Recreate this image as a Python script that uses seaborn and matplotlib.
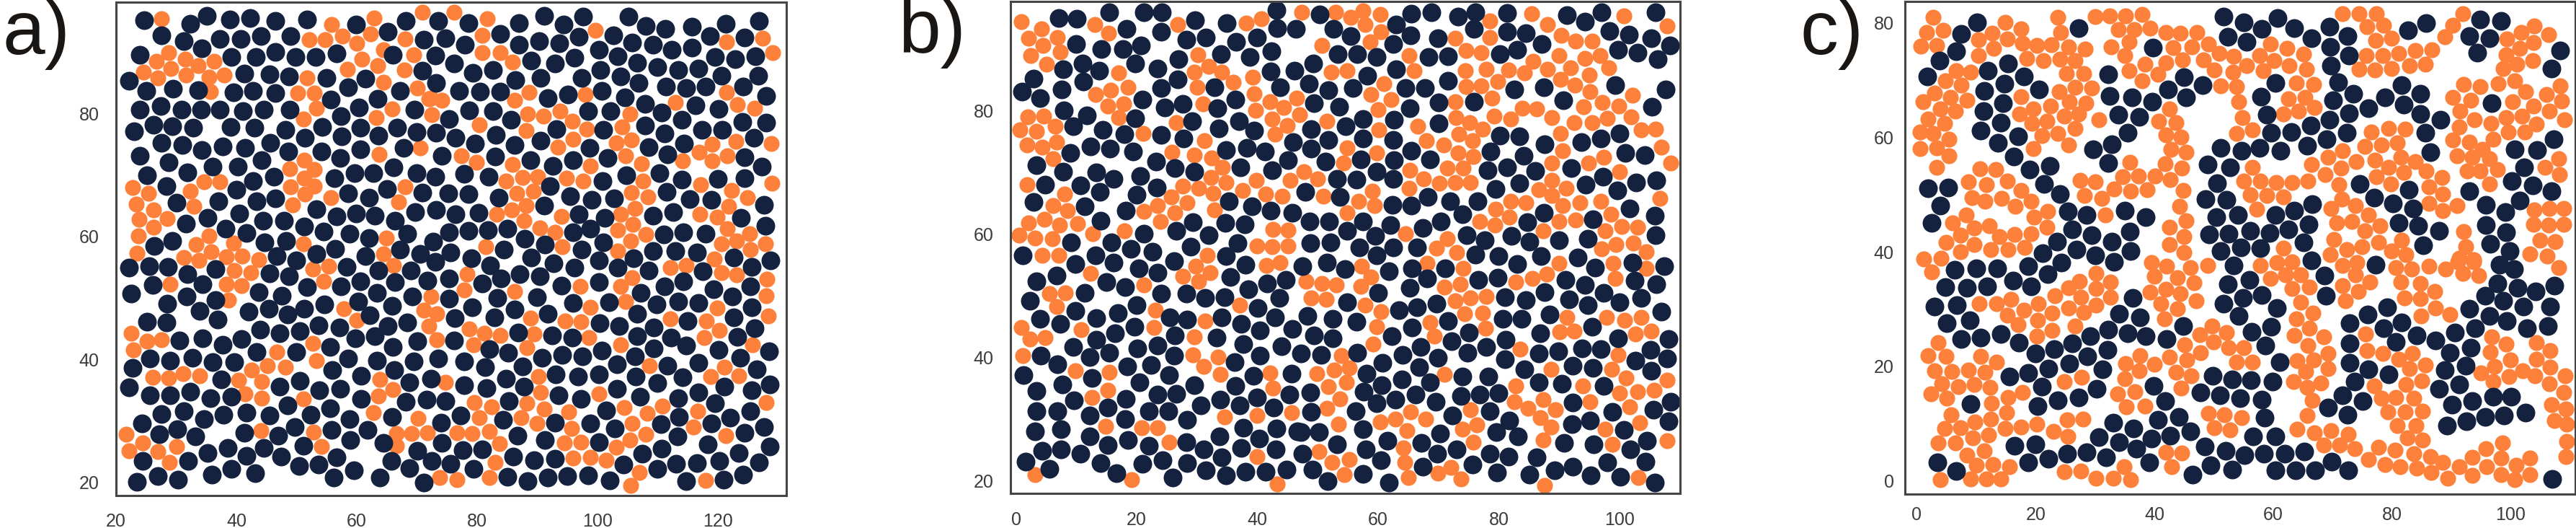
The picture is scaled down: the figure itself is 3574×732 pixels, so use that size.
import matplotlib
matplotlib.use("Agg")
import matplotlib.pyplot as plt
import pandas as pd
import seaborn as sns

# --- values, in axis units ---
a_dark = [(24.7,95.3),(32.3,94.7),(35.1,96),(38.9,95.4),(42.3,95.6),(46.5,95.2),(51.7,95.4),(59.9,94.6),(68.1,95.2),(27.6,92.8),(31.2,91.8),(34.3,90.7),(37.3,92.2),(40.7,92.2),(44.1,92.7),(49,92.7),(65.2,93.4),(71.1,92.1),(23.9,89.6),(39.2,89.3),(43.2,89.3),(46.5,90.1),(49.8,89.3),(53.2,89.3),(56.6,89.8),(66,89.6),(41.3,86.6),(45.5,86.4),(48.8,86.1),(55,85.8),(61.5,85.7),(70.9,87),(22.1,85.4),(25,83.8),(29.5,84.1),(33.6,83.9),(39.5,83.5),(42.8,83.8),(46.5,83.4),(58.6,84.3),(55.7,82.3),(63.5,82.4),(67.2,83.7),(23.9,80.7),(27.4,81.3),(30.9,80.7),(34.1,80.7),(37.3,80.7),(41.1,80.5),(44.5,80.7),(48.9,80.7),(57.4,79.6),(60.4,81),(69.6,80.7),(23,77.2),(26.2,78.2),(29.4,78),(32.8,77.7),(39.1,77.9),(43,77.7),(48.2,77.4),(54.3,77.9),(60.6,77.7),(66.7,77.7),(70,77.1),(51.4,76.1),(57.5,76.3),(63.6,76.4),(27.6,75.3),(31,74.9),(34.2,74.1),(37.7,74.7),(41.5,74.4),(45.6,75.3),(48.6,73.9),(54.1,73.9),(60.6,74.2),(67.8,74.5),(24,73.2),(28.8,72.1),(57.3,72.8),(44.2,72.4),(25.1,70),(31.8,70.5),(36,71.4),(40.3,71.4),(42.8,69.1),(46.2,69.8),(56.3,69.5),(59.6,70.3),(62.8,70.3),(66.1,71.3),(70,70.4),(28.4,68.2),(40,67.6),(58.6,67.1),(65,67.7),(62,66.3),(70.9,67.2),(30.1,65.5),(37,65.8),(43.3,65.7),(46.5,66.2),(53.3,64.5),(56.7,63.3),(59.9,63.8),(63,63.4),(66.3,62.6),(69.7,64),(40.5,63.8),(35.2,63),(31.6,62.1),(44.4,62.6),(47.9,62.6),(38.2,61.3),(41.7,60.6),(51.3,61.6),(54.5,60.8),(58.8,60.5),(62,59.8),(68.4,60.5),(29.4,59.3),(44.7,59.1),(48.3,59.3),(26.3,58.5),(56.4,58),(67.2,57.9),(70.5,57.2),(53.3,57.2),(61.4,56.8),(46.7,56.8),
(22.1,54.9),(25.5,55.2),(28.6,55.1),(31.8,53.9),(36.5,54.7),(26.1,52.1),(34.4,52.2),(45.5,54),(48.8,53.5),(50,56.1),(58.3,55.1),(63.6,54.5),(69,54.5),(60.6,52.7),(66.3,52.6),(71.8,52.8),(51.7,51.8),(57.4,51.9),(22.5,50.7),(31.7,50.3),(36.5,49.7),(43.7,50.9),(47.6,50.4),(28.5,49.1),(63.4,50.8),(69.2,50.3),(60.3,49.4),(54.6,49),(65.9,48.7),(51.3,48.2),(33.9,47.9),(42,47.8),(45.4,48.2),(48.5,47.3),(62.2,47.2),(36.9,46.5),(25.1,46.1),(28.4,46),(53.7,45.5),(57.1,45.2),(65.2,45.4),(68.4,46),(44,44.8),(47.2,44.2),(50.6,44.6),(59.8,43.4),(63,43.8),(40.9,43.3),(34.4,43.4),(30.6,43.1),(37.7,42.4),(66,42),(70.1,43),(55.6,42),(43.4,41.2),(50,41.2),(58.6,40.1),(63.4,39.8),(69.5,39.7),(25.6,40.1),(29,39.8),(32.7,40.3),(36,39.6),(39.6,39.6),(22.8,38.6),(66.2,38.2),(55.9,38.2),(60.7,37.3),(68.8,36.2),(37.5,36.7),(50.5,36.5),(47.2,35.6),(22.2,35.4),(53.8,35),(57.2,35.2),(25.6,34.1),(29,34.1),(32.3,34.7),(35.7,33.7),(39.2,33.9),(60.7,33.6),(68.1,33.1),(71.6,33.4),(27.5,31.1),(31.3,31.6),(34.6,30.3),(37.8,31),(41.7,31.3),(45.5,30.9),(48.5,32.5),(55.6,32),(52.3,31),(58.8,30.3),(65.9,30.6),(24.3,29.5),(27.2,27.8),(30.2,28.6),(33.2,27.4),(41.3,28),(49.7,29),(47,27.6),(55.8,28.5),(61.8,28.5),(58.9,26.8),(64.4,26.4),(51.1,25.9),(70.1,25.1),(35.2,24.7),(38.6,25.5),(41.7,24.3),(44.5,25.5),(47.4,24.2),(56.7,24),(65.7,23.4),(24.4,23.4),(32,23.4),(50.4,22.6),(53.6,22.8),(68.8,22.3),(26.9,21),(23.5,20),(30.3,20.4),(35.9,21.2),(39.2,22.1),(43.1,21.5),(56.2,20.7),(59.5,21.9),(63.9,20.7),(71.1,19.9),
(73.6,95.2),(78.6,94.8),(87,94.8),(91.2,96),(94.4,94.6),(97.6,95.8),(105.2,95.8),(108.1,94.3),(111.3,93.8),(115.7,94.2),(121.3,94.7),(126.9,95.1),(74.8,92.3),(78,91.3),(83.9,93),(86.9,91.3),(90.3,91.8),(93.7,91.5),(96.9,92.5),(102.6,92.8),(105.8,91.6),(109.2,91.3),(112.3,90.5),(115.7,90.8),(118.7,92.7),(124.5,92.4),(73.1,89.5),(100.2,90.5),(103.4,89.4),(106.6,88.3),(119.5,89.3),(122.9,88.9),(126.2,89.4),(76.2,88.2),(89,88.7),(92.9,88.2),(96.2,89.2),(100.5,87.2),(110,87.6),(113.4,87.2),(116.8,87.4),(82.6,87.1),(79.3,86.7),(97.4,85.9),(103.8,86.1),(120.6,86.2),(126.7,86.2),(86.4,85.5),(90.5,85.9),(106.9,85),(111.4,84.5),(114.8,84.2),(118,84.5),(124.2,84.5),(73.2,85),(77,83.7),(80.5,83.6),(83.9,83.6),(91.7,82.6),(95.1,83.2),(100.7,83.8),(104.6,82.7),(128,82.9),(107.9,81.6),(78.7,80.6),(82.6,80.5),(116.3,81.4),(120.2,80.8),(102.2,80.4),(98.4,80.4),(110.7,80.2),(75.4,79.2),(85.6,79),(114,79),(124.1,78.7),(128,78.6),(93.2,77.5),(101,77.4),(107.9,78.1),(117.4,77.4),(120.7,77.4),(73.2,76.9),(83.1,76.6),(111.2,76.8),(76.4,76.1),(126,76.1),(79.7,75.2),(90.5,75.6),(86.2,74.9),(98.7,74.5),(108.5,74.6),(114.4,75.2),(111.6,73.4),(74.2,73.2),(83,73),(101.7,72.8),(124.5,72.9),(95.9,72.5),(88.9,72.5),(92.6,71.5),(127.3,71.4),(73.1,69.8),(77.8,70.2),(81.9,69.8),(104.8,70),(110.3,70.4),(114,69.3),(120,69.4),(124.5,69.5),(100.9,69.1),(92.1,68.2),(111.5,67.3),(75.2,67),(78.6,66.9),(95.5,66.6),(83.6,66.3),(99.1,66),(102.8,66.2),(115.3,66.1),(118.9,66),(127.7,65.2),(91.2,65),(73.2,64.3),(76.4,63.7),(80.2,63.9),(96.9,63.7),(101.2,63.1),(112.6,64),(109.2,63.4),(123.9,63.1),(127.9,61.8),(75.3,60.7),(78.6,60.9),(81.8,61.1),(85.1,61.3),(98.8,61.3),(95.9,60.7),(111,60.4),(114.3,60.7),(118,60.5),(87.9,59.6),(72.7,59.2),(91.3,58.7),(101,59.1),(84.5,57.9),(75.6,57.4),(97.4,57.9),(109.2,57.6),(113,57.6),(116.6,57.4),(79,56.5),(122.7,56.6),(106,56.5),(73.1,55.9),(82.2,55.3),(89,56.6),(92.7,55.7),(96.2,54.9),(100.3,56.1),(103.4,54.9),(108.5,54.5),(125.7,55.1),(128.8,56.1),(117.5,54.3),
(75.4,53.2),(80.9,52.3),(84,53.2),(87.1,53.9),(90.4,53.5),(94,52),(100.2,52.6),(111.2,51.9),(114.3,52.7),(119.3,51.4),(125.4,51.9),(107.2,50.8),(75.3,49.9),(83.4,50),(90,50.1),(95.9,49.2),(101.9,49.3),(113.4,49.4),(116.8,49.2),(122.4,50.2),(125.6,48.5),(109.8,48.9),(79.2,48.5),(86.2,48.1),(91.8,47.4),(106.6,47.4),(76.3,46.7),(82.9,46.8),(100.4,45.9),(103.6,45.4),(115,46.2),(122.6,46.8),(109.4,45.2),(126.1,45.1),(86.8,44.4),(92.5,43.9),(95.8,43.6),(106.6,43.8),(112.2,43.5),(123.3,43.7),(76.2,43.1),(114.7,42.3),(120.1,41.6),(109.3,41.8),(100.7,41.4),(82.1,41.7),(85.2,41.1),(94.1,40.7),(97.5,40.5),(90.8,40.2),(106.3,40.5),(128.5,41.3),(73.5,40.1),(77.9,39.7),(123.7,40.3),(103.3,39.2),(87.6,38.8),(81.3,38.7),(111.6,39),(116.8,39.4),(126.5,38.4),(93.1,37.5),(96.8,37.2),(100.2,37.6),(106.4,37.2),(84.8,36.9),(114.2,37.1),(72.3,36.8),(109.9,36.1),(121.1,35.6),(128.7,35.9),(77.9,35.8),(81.6,35.3),(87.8,35.6),(103.3,35.2),(125.6,35),(116.8,34.6),(107.1,33.9),(93.5,34.1),(97.3,33.6),(113.4,33.7),(74.7,33.2),(85.3,33.2),(119.5,32.8),(125.4,31.6),(101.5,31.7),(77.3,30.9),(113.5,30.6),(122.1,30.5),(74,29.7),(84.3,30.1),(92.9,29.7),(98.8,29.6),(110.6,29.4),(119,29.6),(102.9,28.7),(127.7,29),(86.7,27.6),(124.5,28),(113.3,27.4),(74.1,26.4),(91.3,26.8),(100.3,26.5),(118.4,26.2),(128.7,25.8),(110.7,25.4),(77.6,25.2),(80.9,25.3),(107.4,24.6),(123.5,24.7),(120.3,23.5),(86,24.1),(72.5,23.4),(75.6,23),(89.5,23.6),(93,23.8),(104.3,22.8),(113.1,23),(116.5,23.1),(109.9,22.2),(126.9,23.2),(79.4,22.1),(85.1,20.9),(95,21),(98.4,21.1),(91.7,20.7),(88.4,20.2),(102,20.3),(124.2,21.2),(121,20.4),(114.7,20.2)]

a_orange = [(27.5,95.5),(55.8,94.6),(62.9,95.6),(70.9,96.5),(52.1,92.1),(54.7,92.1),(57.6,92.7),(62.3,93),(60,91.5),(68,92.2),(64.4,90.5),(69.5,89.6),(60.9,88.9),(63.5,87.8),(58.5,87.3),(67.9,87.2),(28.8,90),(26.7,88.6),(31.5,88.9),(36.3,88.6),(33.7,87.8),(29.1,87.4),(24.5,86.8),(27,85.8),(31.6,86.3),(35.5,86),(38,86.3),(51.8,85.9),(64.4,85.2),(35.7,83.6),(50.2,83.4),(52.9,83.4),(70.1,84.2),(53.3,80.9),(65.9,80.8),(72,82.5),(63.2,79.4),(51.2,79.1),(70.6,74.4),(63.7,73.4),(51.3,72.5),(48.9,71),(53,70.9),(51.3,69.5),(49,68.1),(53,68.2),(51.4,66.9),(55.7,66.3),(49.4,65.2),(34.6,68.9),(37.2,68.9),(22.7,68),(25.4,67),(32.3,67.4),(32.9,64.9),(68,68.1),(66.9,65.6),(23.3,65.3),(26.2,64.4),(23.8,62.8),(28.5,62.9),(26.2,61.5),(23.7,60.1),(35.5,60.1),(39.5,58.9),(33.3,58.7),(64.9,59.8),(51.1,58.8),(23.5,57.3),(35.8,57.5),(31.2,56.6),(38.3,56.7),(41,56.8),(43.7,56.2),(33.8,56.1),(64.4,57.2),
(39.7,54.5),(42.4,54.1),(29,52.2),(38.3,52.2),(40.9,52),(52.7,54.7),(55.3,55.2),(54.5,52.7),(66.1,55.3),(38.7,49.7),(57.8,48.3),(60,46.4),(72.3,50.2),(71.2,48),(72,45.4),(22.5,44.3),(25.2,43),(27.6,43.2),(22.9,41.5),(52.7,42.6),(46.7,41.2),(53.3,39.8),(45.2,38.9),(48.1,38.7),(42.5,38.3),(26.1,37.1),(28.8,37),(31.1,37.7),(33.9,37.3),(40.4,36.6),(44.2,36.4),(63.8,36.7),(66,35.1),(63.6,34),(41.5,34.4),(44.2,33.7),(51.2,33.6),(62.8,31.3),(70.2,30.4),(44.1,28.4),(52.8,28.1),(21.7,27.8),(66.6,27.9),(69.1,27.9),(71.7,28),(24.4,26.4),(22.1,25.1),(30.1,25.8),(27,25),(54.1,25.8),(66.6,25.9),(28.9,23.2),
(76.2,96.5),(81.7,95.5),(80.8,92.8),(99.7,93.6),(127.4,92.3),(121.5,91.7),(129.1,90),(80.9,90),(83.9,90),(85.9,88.4),(88.6,83.5),(86.3,82.2),(98,83.1),(121.4,83.5),(113,81.9),(74.2,82.2),(123.3,81.5),(126.1,80.9),(72.3,82.6),(88.4,80),(91,79.6),(93.8,80.5),(72.5,79.9),(105.4,80),(95.8,78.8),(80.4,78.2),(104.1,77.9),(88.1,77.3),(98.2,77.5),(95.9,75.9),(105.7,75.7),(103.1,75.3),(93.4,74.6),(128.9,75.2),(123,75.5),(119.1,75),(116.9,73.8),(121.6,73.2),(119.1,72.3),(104.7,73.2),(77.4,73.2),(79.9,72.1),(114.2,72.3),(107.3,71.9),(85.9,71.7),(98.8,71.5),(90.1,69.8),(87.6,69.6),(84.8,69.1),(94.9,69.5),(97.6,69),(107.6,69.1),(117.2,68.5),(129,68.7),(89.3,67.4),(86.6,67),(105.7,67.2),(108.4,66.5),(122.3,67.5),(124.9,66.3),(88.2,65),(121.8,64.9),(106.3,64.6),(85.8,64.3),(83.2,63.7),(94,63.3),(103.9,63.6),(117,63.7),(119.9,63.2),(87.8,62.6),(105.9,62),(121.6,61.3),(90.4,61.4),(92.9,60.7),(103.4,61),(108,60.4),(125.3,60.5),(105.5,59.3),(123.1,59.3),(120.6,58.8),(127.9,58.8),(81.4,58.3),(94.2,58.4),(125.4,57.9),(103.4,57.6),(119.4,56.3),
(112.1,54.9),(114.7,55.3),(120.6,54.1),(123.1,53.8),(128.2,53.1),(78.3,53.9),(105.8,53.3),(103.8,51.9),(97.1,51.9),(77.9,51.3),(86.2,51.1),(128.1,50.4),(104.7,49.4),(98.8,48.5),(119.9,48.4),(73.3,47.4),(128.4,47.1),(88.9,46.7),(112.1,46.6),(94.6,46.3),(97.3,46.1),(118.1,46.3),(78.7,45),(81.2,44.3),(120.3,44.7),(83.9,43.9),(89.5,44.1),(117.8,43.6),(98.6,43.6),(73.3,43.2),(79.4,42.4),(103.8,42.4),(125.8,42.4),(88.3,41.9),(108.7,39),(121.1,38.7),(118.8,37.2),(123.5,37.3),(90.2,37.2),(74.8,36.2),(90.5,34.6),(100.2,34.4),(79.5,33),(88.3,32.8),(128,33),(82.4,32.3),(91.1,31.9),(104.5,32.1),(110.8,32.4),(95.2,31.4),(108.3,31.2),(116.7,31.6),(80.4,30.5),(87.3,30.5),(89.9,29.5),(105.8,29.6),(115.9,29),(95.7,28.7),(76.6,28),(79.2,27.9),(82,28.3),(108.1,27.8),(121.3,27.6),(105.4,26.9),(94.5,26.4),(97.3,26.5),(83.7,26.3),(103.1,25.7),(96,23.9),(98.8,24),(101.4,23.6),(83,23.2),(107,21.6),(73.8,20.7),(76.6,20.4),(82.1,20.7),(118,20.3),(105.5,19.5)]

b_dark = [(7.1,95.1),(10.1,95),(15.4,96),(21.2,96),(24.2,96),(29.7,94.8),(34.9,94.3),(43.1,96.4),(18.3,93.3),(24,92.9),(28.2,91.6),(31.5,92),(43.3,93.5),(46.4,93.4),(39.9,92),(36.5,91.2),(10,90.9),(14.2,90.1),(17.7,90.1),(20.7,90.6),(34,89.3),(42.3,89.7),(38.7,88.8),(26.9,88.4),(11,87.7),(19.7,87.7),(7.8,86.8),(13.8,86.5),(23.4,86.9),(42.2,86.4),(46.1,86.5),(2.9,85.3),(11.1,84.8),(26.8,85.1),(24,83.7),(32.9,83.8),(7.6,83.5),(43.8,83.9),(1,83.2),(4,82.1),(21,81.9),(36.3,81.9),(24.6,80.6),(27.6,81.2),(33.4,80.5),(7.9,80.1),(11.8,79.3),(19.8,78.8),(29.2,78.3),(37,78.3),(33.6,77.2),(39.5,76.8),(9.5,77.5),(14.4,76.9),(18,76.2),(24.1,76.1),(27.8,75.5),(45.9,75),(12.4,74.3),(15.6,73.9),(19.4,73.4),(34.8,73.7),(38.2,74),(41.2,73.4),(9,73.2),(45,72),(3.4,71.2),(23.2,71.8),(26.3,70.7),(29.5,70.2),(37.2,70.8),(42.4,70.4),(7.8,70.1),(13.3,70),(16.2,69),(20.6,69.5),(4.8,68),(10.7,67.9),(23.3,67.6),(13.9,66.9),(20,66.4),(35.3,65.3),(2.9,65.2),(11.4,64.5),(39.1,64.5),(42.2,63.8),(45.8,63.5),(18.2,63.8),(14,62.2),(29.3,62),(34.7,61.8),(37.9,61.6),(26.5,60.5),(21.2,60.1),(31.9,59.9),(15.8,58.7),(9.1,58.7),(36.7,58.5),(19,57.6),(28.9,58),(22.6,57.1),(1.1,56.6),(13.2,56.6),(34.8,56.5),
(9.9,55.1),(16.2,55.4),(20.4,54.5),(23.5,53.7),(26.2,55.6),(38,55),(6.7,53.3),(3.4,52.4),(15,52.2),(18.1,51.4),(35.5,53.1),(41.6,52),(44.7,52.6),(11.4,50.5),(24.1,50.3),(38.5,51),(28.2,50.3),(31.3,49.7),(34.5,49.8),(43.6,49.7),(2.3,49.2),(20,48.5),(9.8,47.5),(40.1,48),(16.9,47.2),(25.5,46.5),(28.4,46.1),(34.1,46.5),(42.9,46.5),(4,46.2),(13.3,46.4),(37.3,45.4),(7.3,45.4),(19.6,45),(40.4,44.4),(45.8,44.6),(16.4,43.9),(26.3,43.6),(33.2,43.2),(13.3,42.9),(9.5,41.7),(23.5,41.9),(37.6,42.1),(20.1,41.5),(44,41.8),(15.4,40.8),(26.2,40.3),(4.1,40.3),(40.4,40.3),(12.2,40),(36.2,39.2),(6.9,38.9),(18.4,38.5),(22.4,38.7),(25.4,37.1),(1.3,37.1),(39.3,37),(45.6,37.4),(12.6,36.6),(20.5,35.9),(7.7,35.6),(29.6,35.5),(36.4,35.4),(3.4,34.5),(23.5,34),(26.6,34.1),(45.3,33.9),(39.9,33.5),(18.2,33.3),(9.6,33),(33.8,33.1),(30.6,32.2),(37.1,32.2),(42.7,31.9),(15.2,31.8),(3.4,31.3),(6.8,31.3),(22,31.3),(25.2,31.3),(12.2,30.5),(18.1,30),(28.3,29.8),(37.6,28.6),(43.2,28.5),(7.5,28.3),(3.1,28),(46.6,28),(33.7,27.1),(12.2,27.2),(18.5,26.6),(40.3,26.8),(15.2,25.8),(22,25.6),(28.2,26.2),(37.3,25.3),(31.1,25.1),(4.3,24.8),(7.5,25.1),(10.7,24.4),(43,25),(34.1,23.8),(24.3,23.3),(1.6,23.1),(14,22.8),(21,22.7),(28.3,22.8),(5.5,21.9),(31.5,21.7),(16.7,21.2),(38,21.4),(41.3,21.4),(44.8,21.8),(34.8,20.8),(25.9,20.5),
(50.3,95.7),(65.5,95.8),(68.8,96),(73.2,95.3),(76.1,96),(81.4,95.9),(91.3,95.6),(97,96),(105.9,96),(94.3,94.5),(52.6,93.3),(63,94.1),(75.8,93.3),(81.4,92.9),(84.5,92.7),(98.3,93),(55.5,92.2),(65.3,92.3),(69.9,91.8),(87.1,90.9),(101.5,92.4),(105.2,91.8),(108.3,90.7),(62.5,90.9),(53.3,89.2),(56.5,89.2),(59.8,88.8),(68.3,88.8),(71.6,88.9),(80.1,89.3),(83,90),(99.7,90),(103,89.5),(106.3,88.4),(49.2,87.7),(63,86.8),(58.2,85.7),(71.6,84.9),(48.5,84.4),(51.7,83.4),(55.8,83.7),(64.5,83.7),(67.7,83.7),(82.5,83.5),(87.4,83.9),(99.2,84.2),(107.6,83.5),(49.4,81.3),(53.5,80.7),(70,81.4),(75.8,81.5),(65.2,80.5),(90.7,81.7),(105.4,80.7),(57.5,78.7),(62.6,78.6),(70,78),(48.9,77.1),(54.6,77.5),(57.5,75.5),(62.5,75.3),(80.2,76),(83.4,75.9),(100,76.4),(96.9,75.5),(93.7,75),(87.6,74.6),(51.7,75.3),(48.9,73.9),(65.5,73.6),(100.9,73.2),(104.2,72.8),(78.6,73.4),(84.1,72.7),(51.3,71.8),(57.1,72.2),(62.6,72),(68.6,72.2),(81.3,70.8),(78.1,70.4),(86,70.3),(92,70.7),(59.7,70.1),(56.4,68.9),(53.2,69),(62.5,69),(97.2,69.3),(94.4,68.1),(83.4,68.3),(79.4,67.3),(102.7,68.4),(106.1,68.7),(99.6,67.1),(47.9,66.9),(53.6,66),(68.2,66),(71.9,65.4),(76.4,65.4),(62.4,64.8),(65.5,64.7),(87.4,63.5),(101.6,64.2),(73.9,63.2),(48.7,62.1),(51.9,62.1),(57.5,62.1),(105.8,63),(70.4,62.1),(62,61.5),(84.7,61.9),(95.6,62.4),(54.8,60.5),(67.4,61),(59.5,59.7),(74.7,59.8),(82.1,59.7),(105.9,59.8),(48.8,58.6),(52.1,58.7),(77.6,59),(85,58.8),(90,59),(94.7,59.3),(56.9,57.8),(62.5,57.8),(66.4,57.8),(76.1,56.7),(59.7,56.6),(87,56.5),(79.9,56.4),(93,56.2),
(47.4,54.8),(51.5,55.4),(54.5,54.3),(61.8,54),(65.6,54.5),(68.1,52.8),(71.1,54.4),(83,55.2),(95.9,54.6),(102.1,55.4),(107.4,54.8),(102.5,52.5),(76.6,52.6),(79.8,52.9),(91,52.6),(94.2,51.7),(106.1,51.9),(65.2,51.3),(60,50.5),(97.3,50.5),(87.5,50.6),(81,49.8),(84.5,49.3),(91.6,49.4),(103.5,49.7),(100,49),(69.6,48.7),(66.4,48.1),(54.8,49),(94.7,48.5),(63.4,47.7),(48.3,46.7),(52.5,46.3),(56.4,45.8),(80.6,46.3),(83.7,46.2),(88.4,46.9),(106.9,47.4),(71.6,45.9),(65.6,44.9),(95.4,45),(49.3,43.6),(52.5,43.1),(62.3,43.4),(75,44),(86.8,43.9),(99.7,43.1),(72.2,42.6),(81.1,42.8),(108.1,43),(67,41.7),(77.9,41.7),(56.5,40.8),(64,40.4),(74.8,40.7),(93.8,41.5),(96.9,41.3),(50.5,40.4),(47.2,40.6),(89.8,41),(86.6,40.6),(105.1,41.2),(69.9,39.9),(81,39.7),(102.6,39.4),(107.9,39.8),(60.7,39.1),(66.8,38.4),(92.2,38.6),(95.5,38.3),(84.2,38),(105.2,37.8),(58.1,37.3),(73.9,36.9),(78.3,36.9),(63.9,36.4),(68.6,35.9),(86.6,35.9),(90.4,35.7),(60.6,35.5),(97.3,35.3),(57.6,34.4),(48.8,34.3),(66.2,33.9),(76.8,34),(79.9,34.2),(73.7,33.7),(62.9,33.1),(69.5,32.8),(59.7,32.5),(92.2,32.7),(108.5,32.8),(56.3,31.3),(48.9,31.1),(78.5,31.2),(98.8,31.1),(105.6,31.5),(72.3,30.6),(81.7,29.7),(95.1,29.7),(108.1,29.6),(92.1,29.1),(57.5,28.3),(50.2,27.8),(100.7,28.2),(70.2,27.6),(79.5,27.8),(47.2,27.9),(83.1,27.2),(104.5,26.5),(67.2,26.1),(61.5,26.4),(53.2,25.9),(90.8,26.1),(95.7,25.9),(57.9,25.1),(73,25.1),(101.8,25.1),(69.8,24.3),(47.4,24.4),(78.5,24.4),(81.6,23.9),(60.5,23.3),(86.2,23.8),(104.3,23.1),(75.6,22.6),(97.9,22.9),(67.4,22.2),(49.1,21.8),(92.2,22.2),(89.2,21.7),(57.5,21.1),(79.7,21.3),(85,21),(95.2,20.8),(100.1,20.6),(51.6,19.9),(61.8,19.7),(105.8,19.7)]

b_orange = [(0.9,94.5),(4.2,93.3),(13.1,94),(26.8,94.1),(38.1,94.3),(40.6,95),(15.3,92.7),(6.9,92),(2.1,91.8),(4.5,90.7),(7.3,89.6),(2.5,89),(5.1,87.6),(30.1,89.1),(31.9,87.2),(29.6,86.3),(34.1,86.3),(17,86.2),(39.2,85.5),(36,84.7),(18.5,83.9),(30,83.8),(15.7,83.4),(13.2,82.7),(39.5,82.8),(42.1,81.5),(46.5,82.1),(17.8,81.2),(15.2,80.8),(31,81.2),(44.4,80.6),(39.7,80.1),(47,79.4),(2,79),(4.6,79.2),(17,78.9),(42.4,78.7),(6.5,77.5),(26.6,78.1),(44.9,77.6),(0.6,76.9),(3.4,76.7),(21.1,76.4),(42.9,76.3),(31.2,75.2),(6.7,74.9),(1.8,74.5),(4.3,74.1),(25.8,73.3),(29.5,72.9),(32.4,72.4),(6.2,72.3),(34.2,70.9),(32.3,69.2),(45.4,68.8),(34.8,68.4),(39.8,68.8),(1.8,68),(27.6,67.8),(30.3,67.4),(37.5,67.1),(8,66.5),(32.7,66.6),(41.4,66.5),(44.1,66.2),(25.7,66.1),(28.3,65.1),(6.2,64.7),(23.5,64.7),(8.5,63.8),(21.2,63.7),(26.3,63.5),(32.9,63.9),(4.7,62.4),(2.1,61.8),(7.2,61.5),(10.2,61.7),(23.9,62.1),(42.6,60.8),(45.1,60.7),(12.7,60.1),(18,60.6),(0.5,59.8),(3.2,59.4),(6,59.2),(39.9,58.1),(42.4,58),(45,58.1),(4.4,56.6),(7.1,56.6),(31.7,56.6),
(29.8,54.8),(12.3,53.6),(27.6,53.2),(32.2,53.7),(30.2,52.3),(41.5,54.9),(43.8,55.4),(21.2,51.7),(5.6,50.4),(8.2,50.5),(6.7,48.3),(37.1,48.5),(23.1,47.6),(31.3,45.9),(0.9,44.9),(10.8,44.5),(22.9,44.9),(29.6,43.3),(2.3,43),(4.8,43.2),(1.1,40.3),(29.3,40.4),(33.5,40),(31.1,38.5),(9.8,37.8),(15.5,37.6),(33.8,37.2),(42.1,37.5),(15.2,34.7),(42.5,35),(12.6,33.5),(34.6,30.3),(39.9,30.6),(45.6,31),(14.9,28.8),(20.8,28.6),(23.5,28.6),(25.4,26.2),(39.9,23.9),(3.2,20.9),(19.2,20.1),(43.3,19.4),
(47.3,96),(52.9,96),(55.4,95.2),(57.5,96.3),(60.3,95.7),(57.8,94),(78.5,94.6),(85.4,95.8),(100.7,95.5),(107.8,93.8),(60.5,92.9),(88,94),(72.8,91.8),(78.5,91.9),(90.3,92.3),(92.7,91.4),(95.4,91.3),(50.7,90.7),(58.7,91.2),(74.6,89.8),(77.1,89.5),(65.1,89),(90,89),(96.7,89),(94.3,88.6),(85.7,88.1),(52.2,86.3),(54.8,86.5),(74.4,86.6),(77.9,86.8),(81.6,86.7),(88,86.8),(91.9,87),(65.9,86.5),(98.2,87),(84.2,86.2),(94.9,85.9),(79.8,84.8),(90.2,85.1),(60.9,84.4),(74.6,84),(77,84.1),(92.6,84.2),(95.1,83.1),(58.8,82.7),(102.1,82.6),(62.1,81.9),(78.9,82.1),(72.8,81.5),(97.1,81.4),(94,80.7),(99.9,80.8),(83.9,80.5),(86.3,80.3),(60,80.2),(79.2,79.2),(82,78.7),(88.7,78.9),(72.9,78.9),(98,78.8),(101.9,79),(92.5,78.1),(95.4,78.1),(51.5,78.3),(75.1,78.1),(77.3,77.1),(66.6,77.5),(60.1,77),(103.5,76.9),(105.9,77.1),(90.2,76.4),(73.4,76.2),(68,75.2),(75.6,75.2),(70.8,74.5),(54.9,74),(90.6,73.6),(106.9,74.1),(59.8,73.2),(73.2,73.2),(75.7,72.6),(97.4,72.5),(88.7,71.5),(94.8,71.5),(54.2,71.6),(108.4,71.6),(71.4,70.7),(74.1,70.7),(65.2,70.4),(100,70.2),(47.7,70.1),(50,69),(88.8,68.8),(67.5,69),(70.1,68.3),(72.8,68.4),(75.3,68.4),(91.1,67.5),(86.6,67.2),(65.1,67.4),(59,67),(88.8,66.3),(50.9,66.2),(96.9,65.4),(56.7,65.4),(81.9,65.3),(84.4,65.1),(93.4,65.1),(106.6,65.8),(59.4,64.6),(90.6,64.6),(79.4,64.1),(54.8,63.5),(98.5,63.2),(81.7,62.8),(76.8,62.1),(90,62.1),(92.7,62.3),(79.3,61.5),(102.9,61.1),(100.3,61.2),(64.5,60.1),(87.3,60.6),(97.6,60.5),(71.5,59.2),(102.3,58.6),(99.4,58.3),(69.6,57.7),(97,57.6),(73,57),(104.4,57.1),
(48,52.3),(50.7,52),(53.1,51.7),(57.2,54.8),(58.8,53.1),(57.1,51.5),(68.1,55.3),(74.1,54.4),(73.6,51.9),(71,51.4),(82.8,52.2),(85.5,52.8),(87.9,53.5),(89.9,55.3),(98.9,55.3),(104.4,54.4),(99.3,52.8),(48.9,49.7),(51.4,49.4),(57.8,48.5),(60.4,47.4),(72.8,49.2),(75.3,49.7),(77.9,49.9),(74.3,47.1),(77.3,47.2),(91.3,46.5),(97.8,46.5),(100.8,46),(103.5,46.5),(59.7,45),(68.6,45.7),(77.8,44.7),(90.1,44.2),(92.5,44.3),(102.6,43.8),(105.2,44.3),(59.1,42.2),(69.3,43.4),(83.5,41.3),(53.9,40.3),(99.7,40.4),(55.2,38.3),(52.7,37.9),(88.6,38.1),(49.8,37.3),(98.6,38),(71,37.2),(54.7,36),(101.1,36.7),(107.8,36.3),(51.8,35.2),(82.8,35.4),(93.9,35.3),(100,34.2),(102.9,34.4),(105.7,34.6),(53.7,33.2),(82.5,32.8),(87.3,33.1),(95.1,32.8),(51.5,31.7),(84.8,31.7),(89.4,31.5),(75.3,31.5),(101.7,32),(65.3,31.1),(67.9,30),(60.3,29.5),(62.8,30),(86.9,30.2),(53.4,29.2),(103.3,29.4),(76.3,29),(88.6,28.7),(73.9,28.3),(64.7,28.1),(97.6,28.3),(87.3,26.6),(75.7,26.2),(98.8,25.9),(107.8,26.4),(64.2,25.3),(50.2,24.7),(55.2,23.4),(52.3,22.9),(64.4,22.9),(72,22.1),(69.9,21.2),(54.4,20.9),(65,20.5),(73.7,20.2),(103.1,20.5),(87.5,19.2)]

c_dark = [(10.1,80.1),(7.5,78),(27.2,79),(39.8,75.6),(6.6,75),(3.8,73.4),(15.3,72.9),(12,71.6),(1.8,70.6),(18,70.6),(32.2,71),(14.8,69.4),(45,70.5),(20.6,68.4),(42.3,68.3),(11.3,68.1),(32.5,67.2),(36.2,67),(39.7,66.2),(45.4,66.9),(14.5,66),(11.2,64.6),(33.9,63.9),(37.5,63.5),(14.2,62.5),(10.7,61.1),(35.5,60.8),(17.1,60.2),(13.6,59),(32.9,58.8),(29.7,57.9),(16.3,56.6),(32.2,55.5),(22.4,55),(19,54.3),(21.4,51.8),(1.9,51.1),(5.3,51.2),(24.1,50.1),(3.9,48.1),(25.4,47.1),(35,47.2),(28.6,46.4),(38.5,46.1),(2.5,45),(26.2,43.9),(35.9,43.5),(29.5,42.9),(23.6,41.8),(32.9,41.8),(26.9,40.4),(36,40.1),(21.2,39.7),(30.1,39.4),
(6.4,36.8),(10,37.1),(13.5,37.1),(18.7,37.5),(24.3,38.1),(33.2,38.2),(22,36.1),(16.2,35),(4.8,33.8),(8.4,33.7),(11.8,34),(19.3,34),(36.4,31.9),(3,30.4),(6.7,30.7),(34.1,29.2),(37.6,28.6),(8.9,28),(5.1,27.5),(44.9,27.1),(32.2,26.4),(14.2,25.7),(35.5,25.8),(38.6,25.3),(29.2,25.3),(42.1,24.8),(7.5,24.8),(10.8,25),(26.2,24),(17.2,24.2),(23.1,23),(32.1,22.9),(20,22.2),(28.7,21.7),(25.7,20.5),(22.2,19.6),(31.3,19.5),(18.8,18.9),(15.6,18.2),(39.9,16.6),(21.1,16.4),(30.3,16.1),(27.3,14.6),(41.8,14),(23.7,14.1),(9.1,13.5),(20.3,13),(44.1,11.2),(33.1,10.2),(40.6,10.7),(36.5,9.1),(46.1,8.6),(30.7,7.6),(42.7,7.9),(34,6.8),(39.5,7.4),(16.5,6.1),(20,6.4),(37,5.6),(25.3,4.7),(28.6,5),(31.9,4.1),(22.2,3.9),(18.8,3.2),(39.1,3.2),(3.5,3.2),(6.6,1.7),(46.4,1.1),
(51.6,81),(55.1,80),(60.8,80.8),(58.1,78.9),(52.4,77.5),(55.5,76.6),(63.6,79),(66.5,77.3),(69.5,79.3),(72.5,77.7),(69.6,75.8),(72.8,74.2),(82.7,78.7),(85.8,79.9),(94.9,80.5),(98.4,80.3),(93,77.7),(96.5,77.3),(94.4,74.8),(108.3,75.2),(69.8,72.5),(106.9,72),(48.1,69.1),(70.9,69.6),(60.4,69.5),(81.6,69.1),(73.5,67.6),(84.8,67.6),(78.9,67),(58,67.1),(70.1,66.4),(82,65.7),(76.1,65.1),(96.8,65.9),(72.8,64.2),(58.9,63.9),(84.8,64.1),(69.5,63.1),(88.2,63.1),(66.4,62.1),(59.7,60.8),(63.1,60.9),(72.4,60.8),(85.7,60.8),(69,59.6),(65.7,58.5),(107.2,59.6),(57.7,58.2),(61.3,57.6),(51.2,58.1),(54.7,57.6),(100.7,57.9),(104.5,57.8),(86.5,57.4),(49,55.2),(52.7,54.8),(102.3,54.8),(50.6,52),(74.6,51.9),(100.2,52.3),(103.7,51.6),(106.9,50.6),(82.9,50.8),(93.1,50.6),(48.6,49.2),(52.2,49.1),(77,49.5),(101.5,49),(66.6,48.3),(95.9,48.2),(80.2,48.5),(83.6,47.5),(63.6,47.2),(99.1,46.9),(50.5,46.1),(54.1,46.4),(60.4,46.4),(81.2,45.1),(66,44.8),(84.4,44.6),(95.9,44.7),(49.2,43),(52.5,43.2),(56.1,43.6),(59.4,43.3),(62.6,43.9),(87.9,43.7),(99.2,43.4),(65.1,41.6),(96.6,41.4),(85.3,41.2),(51.2,40.1),(54.6,40.7),(57.8,40.6),(99.9,40.1),
(53.4,37.6),(66.5,38.5),(98.1,37.8),(77.3,37.8),(68.6,35.9),(100.6,37),(56,35.1),(52.4,34.3),(97.8,34.5),(107.4,34.1),(101.2,33.7),(104.2,33.1),(58.1,32.5),(68.9,32.3),(95.7,32.3),(54.9,31.9),(98.7,31.4),(51.6,31),(79.2,30.3),(60.7,30.2),(102.2,30.5),(106.6,30.5),(93,30.1),(75.9,29),(96.4,28.8),(54.2,28.8),(72.9,27.5),(81.7,27.7),(99.4,27.9),(59.7,26.9),(78.6,26.7),(94,26.7),(102.8,26.7),(106.3,27),(56.4,26),(90.6,25.9),(84.2,25.4),(80.7,24.3),(87.4,24.5),(72.9,24),(58.7,23.6),(93.3,23.2),(89.8,22.4),(61.1,20.8),(72.9,20.6),(92.4,20.1),(76.05,19.5),(88.9,19.4),(79.4,18.6),(49.8,18.3),(53.1,17.7),(56.3,17.6),(59.9,17.3),(73.7,17.3),(91.3,16.8),(87.9,16.1),(47.8,15.5),(51.1,14.9),(54.5,14.5),(58.1,14.2),(71.7,15),(97.1,14.7),(100.1,14.7),(93.6,13.9),(75.1,13.9),(90.1,13.3),(69.3,12.8),(72.5,11.5),(102.5,11.9),(95.7,11.2),(98.9,11.4),(58.6,11),(92.6,10.4),(89.3,9.7),(56.6,7.8),(60.4,7.8),(48.5,6),(52,5.3),(55.2,4.5),(58.5,4.7),(62,4.7),(65.3,5.1),(69.9,3.4),(49.5,2.7),(53.1,2),(60.4,1.8),(63.8,1.8),(67.1,1.9),(72.7,1.9),(107,0.3)]

c_orange = [(2.7,80.9),(14.9,80.1),(23.7,80.9),(30,81.1),(32.5,81.2),(35.2,81.2),(37.9,81.4),(1.7,78.3),(4.4,78.7),(17.5,78.9),(12.7,78.2),(24.2,78.3),(33.9,78.8),(36.6,78.8),(39.3,79),(41.9,78.3),(44.4,78.1),(10.4,77),(15.2,77.1),(0.7,75.9),(3.3,76),(17.8,76.4),(20.2,76),(22.7,76.1),(12.9,75.5),(25.5,75.8),(35.8,76.7),(32.7,75.8),(43.2,75.7),(28.3,75.4),(10.4,74.3),(18.5,73.8),(35,74.3),(24.1,73.6),(21.3,73.4),(26.7,73.4),(44.7,73.5),(42,73),(38.4,72.8),(6.6,71.6),(9.1,71.3),(25.2,71.1),(28.1,71.1),(35.8,71.6),(40.6,71),(4.8,69.8),(38,69.8),(7.5,69.1),(26.7,68.7),(29.5,68.6),(24,68),(3,67.7),(17.5,67.1),(5.7,67),(8.5,66.5),(1,66.2),(25.7,66.2),(28.5,66),(22.5,65.5),(19.6,65),(3.9,65),(42.6,65),(6.5,64.5),(17.3,64),(27.2,64.1),(24.8,63.7),(30.6,63.1),(1.9,63.2),(21.9,62.8),(40.7,62.8),(19.4,62.4),(4.7,62.4),(43.6,62.6),(26.6,61.6),(0.5,60.9),(2.7,60.7),(23.7,60.6),(21.1,60.3),(42,60.4),(44.5,60),(5.4,59.7),(25.6,58.7),(0.6,58),(3.3,58.1),(19.6,58),(42.8,57.9),(45.4,57.4),(5.4,56.8),(35.9,55.6),(3.3,54.8),(10.6,54.5),(13.3,54.3),(41.8,55.4),(44.6,54.6),(34.7,53.1),(37.3,53.2),(40.1,53.2),(8.7,52.2),(15.2,52.4),(27.5,52.5),(30.1,52.2),(42.7,52.6),(11.7,51.7),(17.5,50.7),(33.2,51),(36,50.6),(38.8,50.8),(44.8,50.7),(28.2,49.8),(9.3,49.5),(14.3,49.3),(11.5,48.8),(19.3,48.8),(31.1,49.3),(16.6,47.9),(44.3,48),(22,47.1),(8.3,46.4),(31.7,46.4),(19.7,46),(6,45.1),(45.3,45.4),(21.9,44.3),(9.6,44.1),(12.2,44.6),(42.6,44.3),(7.3,42.9),(13.9,42.7),(16.5,43),(19.3,43.1),(45,42.7),(4.9,41.6),(9.6,41.3),(42.6,41.3),(7.3,40),(12.4,40.4),(15.3,40.4),(18.1,40.7),(45,39.9),(1.2,38.8),(4.1,38.9),
(2.5,36.5),(39.5,38.1),(42.1,37.5),(46.1,37.3),(40,35.7),(43.9,35.5),(27.4,34.9),(30.2,36.2),(32.6,34.7),(30.2,33.6),(25.5,33.7),(27.6,32.1),(23.2,32.3),(32.6,32.1),(39.3,32.9),(42,33.5),(44.4,32.7),(15.9,31.7),(20.5,30.9),(10.5,30.9),(13.4,30.9),(30.2,30.7),(41.1,31),(25.5,30.2),(43.9,30.1),(18,29.8),(22.8,29.3),(15.2,28.9),(28.1,29.4),(20.3,28.1),(41.7,28.3),(17.1,27.3),(26.7,27.1),(22.8,26.3),(20.2,25.3),(3.6,24.1),(45.1,23.8),(1.9,21.9),(10.7,21.7),(4.9,21.7),(37.6,21.9),(42.6,21.6),(45.5,21.1),(13.4,20.7),(35.2,20.5),(40,20.4),(3,19.2),(5.9,19.1),(8.7,19.4),(11.5,19),(37.5,19.2),(43.6,19),(46.2,18.4),(27.7,18.1),(35,17.8),(4.2,17),(24.8,17.4),(9.7,16.9),(7,16.4),(12.3,16.3),(44.5,16.2),(2.4,15.2),(33.8,15.2),(36.7,15.6),(17.8,15.4),(5,14.4),(15.4,14.6),(12.6,13.6),(35.3,12.9),(38.4,13.1),(5.8,11.6),(15.1,11.9),(12.5,10.8),(28,10.8),(25.3,10.7),(9.8,10.3),(7.3,9.3),(4.7,9.1),(14.9,9.1),(17.6,9.4),(20.2,9.9),(23,8.7),(12.1,8),(9.4,7.5),(25.4,7.8),(6.5,6.7),(3.6,6.6),(11.4,5.3),(8.5,4.5),(41.9,5),(44.6,4.9),(12.8,2.8),(15.6,2.5),(10,2.7),(34.9,2.5),(42.9,2.5),(24.8,1.6),(27.6,1.7),(4,0.2),(9,0.3),(11.7,0.4),(14.1,0.4),(30.2,0.5),(33.1,0.5),(36,0.2),
(71.7,81.6),(74.5,81.5),(77.4,81.5),(92,81.5),(90.3,79.6),(75.8,79.3),(78.6,79.5),(47.2,78.3),(104,79.4),(101.8,78.3),(106.4,77.9),(99.4,77.1),(79.9,77.3),(88.9,77.5),(77.3,76.9),(49.1,76.3),(59.6,76.3),(103.9,76.5),(46.3,75.8),(101.6,75.5),(62.4,75.5),(50.9,74.6),(83.9,75.2),(86.8,75.3),(81.1,74.6),(65.1,74.5),(53.4,74.1),(57.7,74.3),(75.7,74.3),(78.5,74.3),(99.2,74.4),(60.2,73.4),(48.2,73.5),(103.7,73.4),(101.1,72.8),(55.6,72.5),(62.7,72.5),(83,72.5),(85.7,72.8),(74.5,71.9),(77.1,71.8),(80,72),(50.1,71.7),(58.3,71.6),(65.6,71.9),(98.8,72),(53.2,71.3),(100.7,69.9),(63.9,69.5),(66.8,69.2),(92.1,69.2),(94.9,68.8),(97.9,69.3),(108.4,69),(51.2,69),(53.8,68.8),(102.5,68),(106.1,67.5),(90.3,66.9),(93.3,66.4),(62.6,66.7),(65.4,67),(100.3,66.2),(108.6,66.3),(54.2,66.2),(103.9,65.5),(67,65.2),(61.7,64.1),(64.3,64.5),(91.5,64.6),(106.5,64.5),(99.2,63.4),(93.9,63),(101.9,63.7),(54.8,63.4),(109.1,63.1),(96.7,62.4),(104.4,62.3),(91.4,61.8),(56.5,61.3),(82.3,61.4),(79.4,61.5),(99.6,60.9),(76.5,60.9),(102.4,60.9),(53.8,60.7),(97.1,59.7),(90.3,59.5),(93,59.2),(80.9,59),(75.4,58.4),(78.3,58.6),(95.3,57.9),(71.7,57.6),(91,56.8),(81.5,56.5),(69.2,56.5),(77.1,56),(93.6,56.5),(96.5,56.3),(108.1,56.3),(74,55.8),(66.5,55.3),(83.9,55.7),(79.5,54.8),(105.8,54.8),(56.5,54.8),(71.5,54.6),(85.8,54.1),(92.7,54.1),(94.9,54.1),(97.8,54.4),(82,53.8),(68.8,53.5),(108.2,53.5),(77.4,53.1),(88.4,53),(65.9,52.4),(55,52.4),(57.9,52.3),(60.5,52.1),(63.2,52.1),(71.1,51.7),(96.5,51.8),(79.8,51.9),(86.2,51.4),(56.2,50),(59,49.8),(61.7,49.6),(88.6,50.1),(71.6,49.2),(86.2,48.5),(91,48.1),(69.8,47.5),(73.9,48.1),(57.3,47.4),(88.6,47.2),(104,47.3),(106.5,47.5),(109,47.5),(76.1,46.4),(103.9,44.8),(106.4,44.7),(109,44.8),(70.7,45.1),(73.3,45.3),(78,44.6),(75.5,43.6),(92.1,43.5),(70.2,42.2),(81.7,42),(77.8,41.6),(105,42),(107.5,41.8),(92.5,40.9),(75,40.9),(61.7,40.6),(72.4,40.4),(79.9,40.1),(82.4,39.5),(69.6,39.5),(103.2,39.6),(106.2,39.2),(91.4,38.9),(93.8,38.6),
(49,37.6),(57.9,37.6),(60.6,38.1),(63.2,38.3),(46.7,34.6),(59.6,35.4),(62.1,36),(64.6,36),(71.7,37.6),(74.1,38.1),(73.9,36),(80.7,37.3),(83.3,37),(86.2,37.5),(89.1,37),(92,36.2),(94.6,35.9),(91.1,38.2),(93.8,38.2),(108.1,37.2),(76.3,34.7),(66.1,33.9),(63.2,33.6),(71.7,34.1),(81.5,34.7),(84.8,34.5),(87.2,33.1),(74.3,33.1),(47,31.5),(64.7,31.2),(82.1,32),(84.8,31.8),(72.2,31.4),(87.3,30.2),(66.7,29.3),(84.9,28.8),(89.8,29.1),(63.9,28.3),(49.7,27),(66.1,26.7),(52.2,25.9),(47.6,25.5),(63.6,25.4),(75.6,25.6),(68.5,25.1),(96.8,25.2),(49.9,24.3),(99.3,23.9),(104.3,24.2),(65.9,23.7),(106.6,22.7),(52.5,23.3),(55.1,23.2),(75.8,22.7),(47.8,22.4),(78.5,22.2),(83.5,22.3),(96.6,22.5),(69.2,22.3),(64.1,21),(66.8,21.1),(81.1,21.2),(100,21.1),(104.3,21.3),(53.9,20.8),(56.5,20.8),(85.7,20.3),(106.7,19.9),(83,19.6),(97.3,20),(69.2,19.6),(65.5,19.1),(102,19.2),(95,18.8),(104.1,18.3),(99.7,18.2),(109.2,18.4),(85,17.5),(63.4,17.3),(68.1,17.1),(106.5,17),(97.1,17.4),(77,16.6),(82.4,16.8),(65.7,16.3),(108.9,15.5),(80.7,14.6),(83.7,14.4),(78.2,14.4),(66.6,14.1),(106.9,13.3),(109.3,12.6),(85.2,12.2),(79.3,12),(82.3,12),(49.1,11.8),(51.8,11.5),(54.7,11),(65.7,11.4),(107.4,10.5),(80.9,9.6),(84.1,9.7),(109.5,9.9),(50.1,9.3),(52.7,8.9),(64,9),(69.7,8.8),(67,8.4),(72.6,8.2),(82.6,7.5),(85.2,7.1),(109.5,6.9),(68.5,6.2),(71.2,6.2),(98.6,6.7),(77.8,5.9),(80.5,5.4),(73.7,5.6),(95.9,5.6),(83.7,4.8),(86.5,4.2),(93.5,4.1),(98.4,4),(103.3,4),(109.3,4.2),(76,3.7),(88.6,3.2),(78.8,2.9),(91.3,2.5),(81.4,2.5),(96,2.5),(101,2.7),(84.2,2.2),(86.65,1.5),(93.6,1),(98.4,1.1),(103.2,1.1),(89.4,0.5),(100.7,0.2)]

a_xticks = [20, 40, 60, 80, 100, 120]
a_yticks = [20, 40, 60, 80]
b_xticks = [0, 20, 40, 60, 80, 100]
b_yticks = [20, 40, 60, 80]
c_xticks = [0, 20, 40, 60, 80, 100]
c_yticks = [0, 20, 40, 60, 80]

DARK = "#14223F"
ORANGE = "#FD813B"
W, H = 3574, 732

sns.set_style("white")
plt.rcParams["font.family"] = ["Liberation Sans", "DejaVu Sans"]

fig = plt.figure(figsize=(W / 100, H / 100), dpi=100)


def draw_panel(dark, orange, box, xlim, ylim, xticks, yticks, xpad, ypad):
    left, right, top, bottom = box
    ax = fig.add_axes([left / W, 1 - bottom / H, (right - left) / W, (bottom - top) / H])
    df_o = pd.DataFrame(orange, columns=["x", "y"])
    df_d = pd.DataFrame(dark, columns=["x", "y"])
    sns.scatterplot(data=df_o, x="x", y="y", color=ORANGE, s=255, linewidth=0, ax=ax)
    sns.scatterplot(data=df_d, x="x", y="y", color=DARK, s=350, linewidth=0, ax=ax)
    ax.set_xlim(*xlim)
    ax.set_ylim(*ylim)
    ax.set_xticks(xticks)
    ax.set_yticks(yticks)
    ax.set_xlabel("")
    ax.set_ylabel("")
    ax.tick_params(axis="x", length=0, pad=xpad, labelsize=18, labelcolor="#3c3c3c")
    ax.tick_params(axis="y", length=0, pad=ypad, labelsize=18, labelcolor="#3c3c3c")
    for spine in ax.spines.values():
        spine.set_color("#454545")
        spine.set_linewidth(2.2)
    return ax


draw_panel(a_dark, a_orange, (161, 1091, 3, 687), (20, 131.4), (17.8, 98.2), a_xticks, a_yticks, 17, 17)
draw_panel(b_dark, b_orange, (1402, 2331, 2, 684), (-0.9, 110), (17.9, 97.8), b_xticks, b_yticks, 18, 17)
draw_panel(c_dark, c_orange, (2643, 3573, 2, 685), (-2, 110.9), (-2.3, 83.7), c_xticks, c_yticks, 12, 11)

for label, xpx, ypx in [("a)", 3, 75), ("b)", 1246, 73), ("c)", 2497, 75)]:
    fig.text(xpx / W, 1 - ypx / H, label, fontsize=76, color="#1a1613", ha="left", va="baseline")

fig.savefig("out.png", dpi=100)
